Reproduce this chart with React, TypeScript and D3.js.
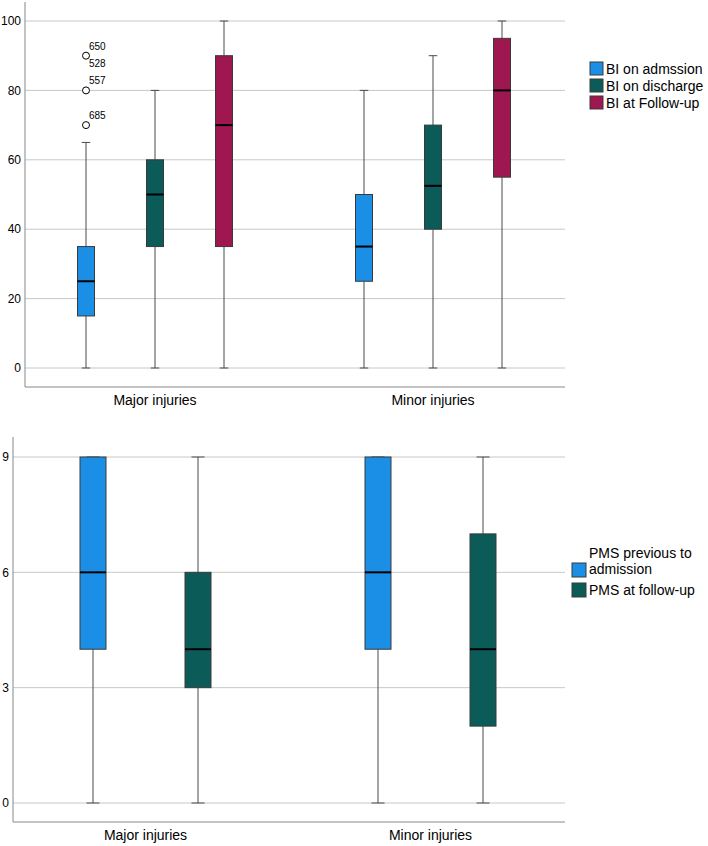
import React from "react";
import * as d3 from "d3";

const groups = ["Major injuries", "Minor injuries"];

// Top chart: Barthel Index
const biSeries = ["BI on admssion", "BI on discharge", "BI at Follow-up"];
const biColors = ["#1b8fe6", "#0b5b59", "#9e1750"];
// [min, q1, median, q3, max] per group per series
const biAdmission = [[0, 15, 25, 35, 65], [0, 25, 35, 50, 80]];
const biDischarge = [[0, 35, 50, 60, 80], [0, 40, 52.5, 70, 90]];
const biFollowUp = [[0, 35, 70, 90, 100], [0, 55, 80, 95, 100]];
const biTicks = [0, 20, 40, 60, 80, 100];
const biOutliers = [
  { group: 0, series: 0, value: 90, labels: ["650", "528"] },
  { group: 0, series: 0, value: 80, labels: ["557"] },
  { group: 0, series: 0, value: 70, labels: ["685"] },
];

// Bottom chart: PMS
const pmsSeries = ["PMS previous to admission", "PMS at follow-up"];
const pmsLegendLines = [["PMS previous to", "admission"], ["PMS at follow-up"]];
const pmsColors = ["#1b8fe6", "#0b5b59"];
const pmsPrevious = [[0, 4, 6, 9, 9], [0, 4, 6, 9, 9]];
const pmsFollowUp = [[0, 3, 4, 6, 9], [0, 2, 4, 7, 9]];
const pmsTicks = [0, 3, 6, 9];

const FONT = "'Liberation Sans', Arial, sans-serif";

type BoxProps = {
  cx: number;
  w: number;
  stats: number[];
  y: (v: number) => number;
  color: string;
};

function Box({ cx, w, stats, y, color }: BoxProps) {
  const [mn, q1, md, q3, mx] = stats;
  const cap = w * 0.5;
  return (
    <g>
      <line x1={cx} x2={cx} y1={y(q3)} y2={y(mx)} stroke="#4a4a4a" strokeWidth={1} />
      <line x1={cx} x2={cx} y1={y(q1)} y2={y(mn)} stroke="#4a4a4a" strokeWidth={1} />
      <line x1={cx - cap / 2} x2={cx + cap / 2} y1={y(mx)} y2={y(mx)} stroke="#4a4a4a" strokeWidth={1} />
      <line x1={cx - cap / 2} x2={cx + cap / 2} y1={y(mn)} y2={y(mn)} stroke="#4a4a4a" strokeWidth={1} />
      <rect x={cx - w / 2} y={y(q3)} width={w} height={y(q1) - y(q3)} fill={color} stroke="#3a3a3a" strokeWidth={1} />
      <line x1={cx - w / 2} x2={cx + w / 2} y1={y(md)} y2={y(md)} stroke="#000" strokeWidth={2} />
    </g>
  );
}

export default function App() {
  // ---------- top chart ----------
  const topY = d3.scaleLinear().domain([0, 100]).range([368, 21]);
  const topX = d3.scaleBand().domain(groups).range([16, 572]);
  const topInner = d3.scaleBand().domain(biSeries).range([-103.5, 103.5]).paddingInner(0).paddingOuter(0);
  const biData = [biAdmission, biDischarge, biFollowUp];
  const topBoxW = 17;

  // ---------- bottom chart ----------
  const botY = d3.scaleLinear().domain([0, 9]).range([803, 457]);
  const botX = d3.scaleBand().domain(groups).range([3, 573]);
  const botInner = d3.scaleBand().domain(pmsSeries).range([-105, 105]);
  const pmsData = [pmsPrevious, pmsFollowUp];
  const botBoxW = 26;

  const topAxisX = 25;
  const botAxisX = 13;
  const rightEdge = 565;

  return (
    <svg width={708} height={846} style={{ display: "block", position: "absolute", left: 0, top: 0 }} fontFamily={FONT}>
      <rect x={0} y={0} width={708} height={846} fill="#fff" />
      {/* ===== TOP ===== */}
      {biTicks.map((t) => (
        <g key={"tg" + t}>
          <line x1={topAxisX} x2={rightEdge} y1={topY(t)} y2={topY(t)} stroke="#c8c8c8" strokeWidth={1} />
          <text x={topAxisX - 4} y={topY(t)} dy="0.35em" textAnchor="end" fontSize={12} fill="#000">
            {t}
          </text>
        </g>
      ))}
      <line x1={topAxisX} x2={topAxisX} y1={2} y2={387} stroke="#888" strokeWidth={1} />
      <line x1={topAxisX} x2={rightEdge} y1={387} y2={387} stroke="#888" strokeWidth={1} />
      {groups.map((g, gi) => {
        const gc = (topX(g) as number) + topX.bandwidth() / 2;
        return (
          <g key={"tgrp" + g}>
            {biSeries.map((s, si) => {
              const cx = gc + (topInner(s) as number) + topInner.bandwidth() / 2;
              return <Box key={s} cx={cx} w={topBoxW} stats={biData[si][gi]} y={topY} color={biColors[si]} />;
            })}
            <text x={gc} y={405} textAnchor="middle" fontSize={14} fill="#000">
              {g}
            </text>
          </g>
        );
      })}
      {biOutliers.map((o, i) => {
        const gc = (topX(groups[o.group]) as number) + topX.bandwidth() / 2;
        const cx = gc + (topInner(biSeries[o.series]) as number) + topInner.bandwidth() / 2;
        const cy = topY(o.value);
        return (
          <g key={"out" + i}>
            <circle cx={cx} cy={cy} r={3.5} fill="#fff" stroke="#000" strokeWidth={1} />
            {o.labels.map((l, li) => (
              <text key={l} x={cx + 3} y={cy - 6 + li * 17} fontSize={10} fill="#000">
                {l}
              </text>
            ))}
          </g>
        );
      })}
      {/* top legend */}
      {biSeries.map((s, i) => (
        <g key={"tl" + s} transform={`translate(590, ${62 + i * 17})`}>
          <rect x={0} y={0} width={13} height={13} fill={biColors[i]} stroke="#3a3a3a" strokeWidth={1} />
          <text x={16} y={7} dy="0.35em" fontSize={14} fill="#000">
            {s}
          </text>
        </g>
      ))}

      {/* ===== BOTTOM ===== */}
      {pmsTicks.map((t) => (
        <g key={"bg" + t}>
          <line x1={botAxisX} x2={rightEdge} y1={botY(t)} y2={botY(t)} stroke="#c8c8c8" strokeWidth={1} />
          <text x={botAxisX - 4} y={botY(t)} dy="0.35em" textAnchor="end" fontSize={12} fill="#000">
            {t}
          </text>
        </g>
      ))}
      <line x1={botAxisX} x2={botAxisX} y1={437} y2={822} stroke="#888" strokeWidth={1} />
      <line x1={botAxisX} x2={rightEdge} y1={822} y2={822} stroke="#888" strokeWidth={1} />
      {groups.map((g, gi) => {
        const gc = (botX(g) as number) + botX.bandwidth() / 2;
        return (
          <g key={"bgrp" + g}>
            {pmsSeries.map((s, si) => {
              const cx = gc + (botInner(s) as number) + botInner.bandwidth() / 2;
              return <Box key={s} cx={cx} w={botBoxW} stats={pmsData[si][gi]} y={botY} color={pmsColors[si]} />;
            })}
            <text x={gc} y={840} textAnchor="middle" fontSize={14} fill="#000">
              {g}
            </text>
          </g>
        );
      })}
      {/* bottom legend */}
      <g transform="translate(572, 549)">
        <rect x={0} y={14} width={14} height={14} fill={pmsColors[0]} stroke="#3a3a3a" strokeWidth={1} />
        {pmsLegendLines[0].map((l, li) => (
          <text key={l} x={17} y={9 + li * 16} fontSize={14} fill="#000">
            {l}
          </text>
        ))}
        <rect x={0} y={34} width={14} height={14} fill={pmsColors[1]} stroke="#3a3a3a" strokeWidth={1} />
        <text x={17} y={46} fontSize={14} fill="#000">
          {pmsLegendLines[1][0]}
        </text>
      </g>
    </svg>
  );
}
